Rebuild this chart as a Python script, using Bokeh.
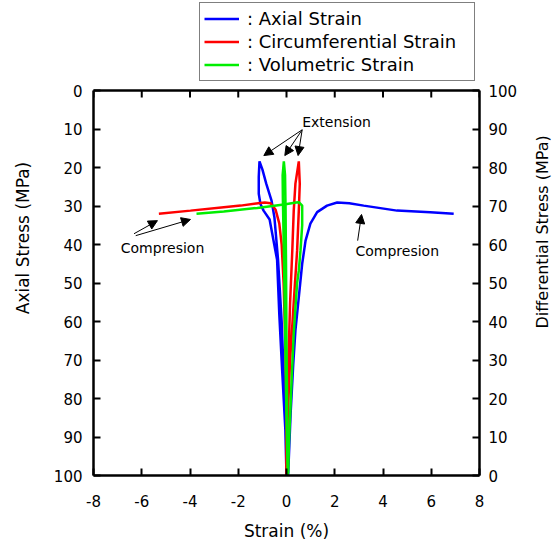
import math
from bokeh.plotting import figure
from bokeh.layouts import row
from bokeh.models import (Range1d, LinearAxis, FixedTicker, Legend, LegendItem,
                          Arrow, NormalHead, Label)
from bokeh.core.properties import value
from bokeh.embed import file_html
from bokeh.resources import INLINE

# ---------------- data (strain %, axial stress MPa) ----------------
x_ticks = [-8, -6, -4, -2, 0, 2, 4, 6, 8]
x_tick_labels = ["-8", "-6", "-4", "-2", "0", "2", "4", "6", "8"]
y_ticks = [0, 10, 20, 30, 40, 50, 60, 70, 80, 90, 100]
y_tick_labels = ["0", "10", "20", "30", "40", "50", "60", "70", "80", "90", "100"]
diff_ticks = [0, 10, 20, 30, 40, 50, 60, 70, 80, 90, 100]
diff_tick_labels = ["0", "10", "20", "30", "40", "50", "60", "70", "80", "90", "100"]

# Axial strain - compression branch
axial_comp_x = [0.02, 0.07, 0.17, 0.28, 0.37, 0.51, 0.65, 0.79, 0.99, 1.27, 1.68, 2.1, 2.6, 3.2, 4.58, 5.96, 6.93]
axial_comp_s = [100, 99.6, 84, 71, 62.3, 53.7, 45, 39, 34.6, 31.6, 29.9, 29.1, 29.3, 29.9, 31.2, 31.6, 32.0]
# Axial strain - extension loop
axial_ext_x = [0.0, -0.08, -0.2, -0.35, -0.5, -0.62, -0.84, -1.0, -1.12, -1.15, -1.15, -1.08, -0.95, -0.7,
               -0.46, -0.39, -0.3, -0.18, -0.1, -0.04, 0.03]
axial_ext_s = [100, 80, 60, 44, 33, 28.6, 24.2, 20.5, 18.4, 22.5, 26.8, 29.5, 31.2, 33.5,
               41.6, 44, 58, 72.7, 82, 89, 99.5]

# Circumferential strain - compression branch
circ_comp_x = [0.0, 0.0, -0.05, -0.12, -0.2, -0.3, -0.45, -0.66, -0.9, -1.08, -1.9, -2.6, -3.98, -5.29]
circ_comp_s = [100, 85, 65, 50, 40, 34.5, 31, 29.3, 29.1, 29.2, 29.9, 30.3, 31.2, 32.0]
# Circumferential strain - extension spike
circ_ext_x = [0.0, 0.03, 0.08, 0.15, 0.24, 0.3, 0.37, 0.51, 0.55, 0.51, 0.44, 0.3, 0.15, 0.05, 0.0]
circ_ext_s = [100, 85, 70, 55, 41.6, 31.2, 24.2, 18.4, 24.2, 31.2, 41.6, 55, 70, 85, 100]

# Volumetric strain - extension spike
vol_ext_x = [0.05, 0.0, -0.05, -0.1, -0.15, -0.16, -0.11, -0.06, -0.04, -0.02, 0.0, 0.03, 0.05]
vol_ext_s = [100, 85, 65, 45, 28, 22, 18.4, 22, 30, 45, 65, 85, 100]
# Volumetric strain - compression branch
vol_comp_x = [0.07, 0.1, 0.2, 0.3, 0.44, 0.51, 0.58, 0.65, 0.65, 0.51, 0.4, -0.11, -1.21, -2.6, -3.73]
vol_comp_s = [99.5, 92, 77, 63, 50, 46.8, 41.6, 35, 29.9, 29.0, 29.1, 29.6, 30.5, 31.4, 32.0]

FONT = "DejaVu Sans"
LEFT_TITLE = "Axial Stress (MPa)"
RIGHT_TITLE = "Differential Stress (MPa)"

# Frame extends above the 0 MPa line so the legend (drawn inside the frame) sits over the box.
PX_PER_MPA = 385 / 100.0
TOP_EXTRA = 90 / PX_PER_MPA  # head-room in MPa above the 0 line

p = figure(width=480, height=544, output_backend="svg", toolbar_location=None,
           x_range=Range1d(-8, 8), y_range=Range1d(100, -TOP_EXTRA),
           min_border_left=48, min_border_right=46, min_border_top=0, min_border_bottom=69)
p.extra_y_ranges = {"diff": Range1d(0, 100 + TOP_EXTRA)}
p.xgrid.visible = False
p.ygrid.visible = False
p.outline_line_color = None
p.background_fill_color = "white"
p.border_fill_color = "white"


def style(ax, ticks, labels):
    ax.ticker = FixedTicker(ticks=ticks)
    ax.major_label_overrides = {t: l for t, l in zip(ticks, labels)}
    ax.axis_line_width = 2.5
    ax.axis_line_color = "black"
    ax.major_tick_in = 7
    ax.major_tick_out = 0
    ax.major_tick_line_width = 2
    ax.major_tick_line_color = "black"
    ax.minor_tick_line_color = None
    ax.major_label_text_font = FONT
    ax.major_label_text_font_size = "15px"
    ax.major_label_text_color = "black"
    ax.axis_label_text_font = FONT
    ax.axis_label_text_font_size = "17px"
    ax.axis_label_text_font_style = "normal"
    ax.axis_label_text_color = "black"


xb = p.xaxis[0]
style(xb, x_ticks, x_tick_labels)
xb.axis_label = "Strain (%)"
xb.major_label_standoff = 19
xb.axis_label_standoff = 11

yl = p.yaxis[0]
style(yl, y_ticks, y_tick_labels)
yl.bounds = (0, 100)
yl.major_label_standoff = 11

yr = LinearAxis(y_range_name="diff")
style(yr, diff_ticks, diff_tick_labels)
yr.bounds = (0, 100)
yr.major_label_standoff = 9
p.add_layout(yr, "right")

# top edge of the box at 0 MPa, with inward ticks
top_y = y_ticks[0]
tick_len = 7 / PX_PER_MPA
p.segment(x0=[x_ticks[0]], y0=[top_y], x1=[x_ticks[-1]], y1=[top_y],
          line_color="black", line_width=2.5, line_cap="square")
p.segment(x0=x_ticks, y0=[top_y] * len(x_ticks), x1=x_ticks, y1=[top_y + tick_len] * len(x_ticks),
          line_color="black", line_width=2)

BLUE, RED, GREEN = "#0000ff", "#ff0000", "#00ee00"
LW = 2.5
rb = p.line(axial_comp_x, axial_comp_s, line_color=BLUE, line_width=LW)
p.line(axial_ext_x, axial_ext_s, line_color=BLUE, line_width=LW)
rr = p.line(circ_comp_x, circ_comp_s, line_color=RED, line_width=LW)
p.line(circ_ext_x, circ_ext_s, line_color=RED, line_width=LW)
rg = p.line(vol_comp_x, vol_comp_s, line_color=GREEN, line_width=LW)
p.line(vol_ext_x, vol_ext_s, line_color=GREEN, line_width=LW)

legend = Legend(items=[LegendItem(label=": Axial Strain", renderers=[rb]),
                       LegendItem(label=": Circumferential Strain", renderers=[rr]),
                       LegendItem(label=": Volumetric Strain", renderers=[rg])],
                location=(106, 394), border_line_color="black", border_line_width=1,
                glyph_width=35, glyph_height=23, label_height=23, label_standoff=8,
                label_width=223, label_text_font=FONT, label_text_font_size="18px",
                label_text_color="black",
                padding=4, spacing=0, margin=0, background_fill_color="white",
                background_fill_alpha=1)
p.add_layout(legend, "center")

# annotations
def arrow(x0, y0, x1, y1):
    p.add_layout(Arrow(end=NormalHead(size=9, fill_color="black", line_color="black", line_width=1),
                       x_start=x0, y_start=y0, x_end=x1, y_end=y1,
                       line_color="black", line_width=1))

ext_tail = (0.65, 10.2)
for hx, hy in [(-0.94, 16.9), (-0.07, 16.9), (0.48, 16.9)]:
    arrow(ext_tail[0], ext_tail[1], hx, hy)
arrow(-6.32, 37.2, -5.35, 33.8)
arrow(-6.25, 37.7, -3.98, 33.5)
arrow(2.95, 39.0, 3.11, 32.2)

for tx, ty, txt in [(0.65, 8.2, "Extension"), (-6.87, 40.8, "Compresion"), (2.86, 41.6, "Compresion")]:
    p.add_layout(Label(x=tx, y=ty, text=txt, text_font=FONT, text_font_size="14px",
                       text_baseline="middle", text_align="left", text_color="black"))


# side strips holding the two vertical axis titles (pixel coordinates of the page)
def strip(x0, x1, tx, ty, txt, size):
    s = figure(width=x1 - x0, height=544, output_backend="svg", toolbar_location=None,
               x_range=Range1d(x0, x1), y_range=Range1d(544, 0), x_axis_type=None, y_axis_type=None,
               min_border_left=0, min_border_right=0, min_border_top=0, min_border_bottom=0)
    s.outline_line_color = None
    s.xgrid.visible = False
    s.ygrid.visible = False
    s.background_fill_color = "white"
    s.border_fill_color = "white"
    s.text(x=[tx], y=[ty], text=[txt], angle=math.pi / 2, text_align="center",
           text_baseline="middle", text_font=value(FONT), text_font_size=value(size),
           text_color="black")
    return s


left = strip(0, 45, 22, 272, LEFT_TITLE, "17px")
right = strip(525, 560, 542, 265, RIGHT_TITLE, "16px")

lay = row(left, p, right, spacing=0)
open("out.html", "w").write(file_html(lay, INLINE))
